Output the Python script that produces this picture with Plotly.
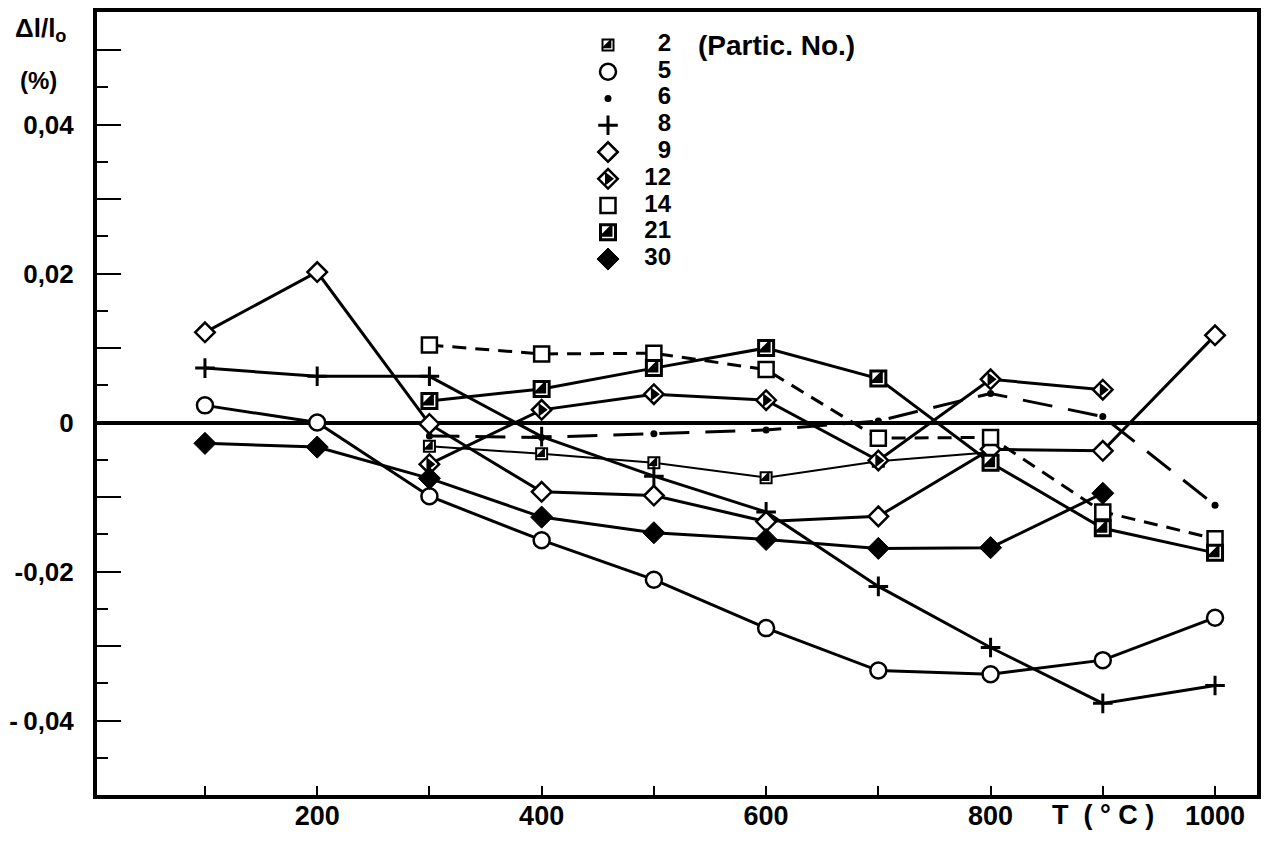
import plotly.graph_objects as go

# ---------------- data ----------------
temps = [100, 200, 300, 400, 500, 600, 700, 800, 900, 1000]
particles = ["2", "5", "6", "8", "9", "12", "14", "21", "30"]

t_2 = [300, 400, 500, 600, 700, 800]
v_2 = [-0.0032, -0.0042, -0.0054, -0.0074, -0.0052, -0.0040]

t_5 = temps
v_5 = [0.0023, 0.0000, -0.0099, -0.0158, -0.0211, -0.0276, -0.0333, -0.0338, -0.0319, -0.0262]

t_6 = [300, 400, 500, 600, 700, 800, 900, 1000]
v_6 = [-0.0018, -0.0020, -0.0015, -0.0010, 0.0002, 0.0039, 0.0008, -0.0111]

t_8 = temps
v_8 = [0.0073, 0.0062, 0.0062, -0.0019, -0.0072, -0.0120, -0.0220, -0.0302, -0.0377, -0.0353]

t_9 = temps
v_9 = [0.0121, 0.0202, -0.0002, -0.0093, -0.0098, -0.0133, -0.0126, -0.0036, -0.0038, 0.0117]

t_12 = [300, 400, 500, 600, 700, 800, 900]
v_12 = [-0.0056, 0.0017, 0.0038, 0.0030, -0.0051, 0.0058, 0.0044]

t_14 = [300, 400, 500, 600, 700, 800, 900, 1000]
v_14 = [0.0104, 0.0092, 0.0093, 0.0071, -0.0021, -0.0020, -0.0120, -0.0156]

t_21 = [300, 400, 500, 600, 700, 800, 900, 1000]
v_21 = [0.0029, 0.0045, 0.0073, 0.0100, 0.0059, -0.0054, -0.0142, -0.0175]

t_30 = [100, 200, 300, 400, 500, 600, 700, 800, 900]
v_30 = [-0.0028, -0.0033, -0.0075, -0.0127, -0.0148, -0.0157, -0.0169, -0.0168, -0.0095]

x_labeled = [200, 400, 600, 800, 1000]
x_labels = ["200", "400", "600", "800", "1000"]
x_unlabeled = [100, 300, 500, 700, 900]
y_labeled = [-0.04, -0.02, 0.0, 0.02, 0.04]
y_labels = ["-\u20090,04", "-0,02", "0", "0,02", "0,04"]
y_unlabeled = [-0.03, -0.01, 0.01, 0.03, 0.05]
y_minor = [-0.045, -0.035, -0.025, -0.015, -0.005, 0.005, 0.015, 0.025, 0.035, 0.045]

series = {
    "2": (t_2, v_2), "5": (t_5, v_5), "6": (t_6, v_6), "8": (t_8, v_8),
    "9": (t_9, v_9), "12": (t_12, v_12), "14": (t_14, v_14),
    "21": (t_21, v_21), "30": (t_30, v_30),
}

# ---------------- styles ----------------
FONT = "Liberation Sans"
styles = {
    "2":  dict(symbol="square", size=11, fill="white", mlw=2, half="triangle-se", hsize=11, dash="solid", width=2),
    "5":  dict(symbol="circle", size=16, fill="white", mlw=2.5, half=None, dash="solid", width=3),
    "6":  dict(symbol="circle", size=7, fill="black", mlw=0, half=None, dash="30px,16px", width=3),
    "8":  dict(symbol="cross-thin-open", size=14, fill="black", mlw=3, half=None, dash="solid", width=3),
    "9":  dict(symbol="diamond", size=15, fill="white", mlw=2.5, half=None, dash="solid", width=3),
    "12": dict(symbol="diamond", size=15, fill="white", mlw=2.5, half="triangle-right", hsize=12, dash="solid", width=3),
    "14": dict(symbol="square", size=15, fill="white", mlw=2.5, half=None, dash="14px,9px", width=3),
    "21": dict(symbol="square", size=15, fill="white", mlw=3, half="triangle-se", hsize=15, dash="solid", width=3),
    "30": dict(symbol="diamond", size=17, fill="black", mlw=1, half=None, dash="solid", width=3),
}

fig = go.Figure()

for name in particles:
    t, v = series[name]
    st = styles[name]
    fig.add_trace(go.Scatter(
        x=t, y=v, mode="lines+markers", name=name, showlegend=False,
        line=dict(color="black", width=st["width"], dash=st["dash"]),
        marker=dict(symbol=st["symbol"], size=st["size"], color=st["fill"],
                    line=dict(color="black", width=st["mlw"])),
    ))
    if st["half"]:
        fig.add_trace(go.Scatter(
            x=t, y=v, mode="markers", showlegend=False, hoverinfo="skip",
            marker=dict(symbol=st["half"], size=st["hsize"], color="black",
                        line=dict(width=0)),
        ))

# ---------------- legend (symbols + numbers on an overlay axis) ----------------
for name in particles:
    st = styles[name]
    fig.add_trace(go.Scatter(
        x=[0.2], y=[name], xaxis="x2", yaxis="y2", mode="markers", showlegend=False,
        marker=dict(symbol=st["symbol"], size=st["size"], color=st["fill"],
                    line=dict(color="black", width=st["mlw"])),
        hoverinfo="skip",
    ))
    if st["half"]:
        fig.add_trace(go.Scatter(
            x=[0.2], y=[name], xaxis="x2", yaxis="y2", mode="markers", showlegend=False,
            marker=dict(symbol=st["half"], size=st["hsize"], color="black", line=dict(width=0)),
            hoverinfo="skip",
        ))
fig.add_trace(go.Scatter(
    x=[0.9] * len(particles), y=particles, text=particles, xaxis="x2", yaxis="y2",
    mode="text", textposition="middle left", showlegend=False, hoverinfo="skip",
    textfont=dict(family=FONT, size=24, color="black", weight="bold"),
))

# overlay axis carrying the unlabeled long ticks of the y axis
fig.add_trace(go.Scatter(x=[None], y=[None], yaxis="y3", showlegend=False, hoverinfo="skip"))

# the page body adds an 8 px offset: size the figure so it fits the window
PAGE_OFF = 8
W, H = 1272 - PAGE_OFF, 843 - PAGE_OFF
L, T = 97 - PAGE_OFF, 12 - PAGE_OFF
R, B = W - (1257 - PAGE_OFF), H - (795 - PAGE_OFF)
pw, ph = W - L - R, H - T - B


def px2paper_x(px):  # px in page (screenshot) coordinates
    return (px - PAGE_OFF - L) / pw


def px2paper_y(py):
    return (H - B - (py - PAGE_OFF)) / ph


YR = [-0.05, 0.0551]
fig.update_layout(
    width=W, height=H,
    margin=dict(l=L, r=R, t=T, b=B, autoexpand=False),
    paper_bgcolor="white", plot_bgcolor="white",
    font=dict(family=FONT, size=26, color="black"),
    showlegend=False,
    xaxis=dict(
        range=[3.8, 1037.4], showgrid=False, zeroline=False, automargin=False,
        showline=True, linewidth=4, linecolor="black", mirror=True,
        ticks="inside", ticklen=9, tickwidth=2, tickcolor="black",
        tickvals=x_labeled, ticktext=x_labels, ticklabelstandoff=-6,
        tickfont=dict(family=FONT, size=27, weight="bold"),
        minor=dict(tickvals=x_unlabeled, ticks="inside", ticklen=9, tickwidth=2, tickcolor="black"),
    ),
    yaxis=dict(
        range=YR, showgrid=False, automargin=False,
        zeroline=True, zerolinewidth=4, zerolinecolor="black",
        showline=True, linewidth=4, linecolor="black", mirror=True,
        ticks="inside", ticklen=24, tickwidth=2, tickcolor="black",
        tickvals=y_labeled, ticktext=y_labels, ticklabelstandoff=14,
        tickfont=dict(family=FONT, size=26, weight="bold"),
        minor=dict(tickvals=y_minor, ticks="inside", ticklen=11, tickwidth=2, tickcolor="black"),
    ),
    yaxis3=dict(
        range=YR, overlaying="y", side="left", anchor="x", showgrid=False, zeroline=False,
        showline=False, automargin=False, showticklabels=False,
        ticks="inside", ticklen=24, tickwidth=2, tickcolor="black", tickvals=y_unlabeled,
    ),
    xaxis2=dict(domain=[px2paper_x(590), px2paper_x(680)], range=[0, 1], anchor="y2",
                visible=False, fixedrange=True),
    yaxis2=dict(domain=[px2paper_y(272.4), px2paper_y(31.6)], anchor="x2", type="category",
                categoryorder="array", categoryarray=particles, autorange=False,
                range=[len(particles) - 0.5, -0.5], visible=False, fixedrange=True),
    annotations=[
        dict(text="Δl/l<sub>o</sub>", xref="paper", yref="paper", x=px2paper_x(40), y=px2paper_y(30),
             xanchor="center", yanchor="middle", showarrow=False,
             font=dict(family=FONT, size=26, weight="bold")),
        dict(text="(%)", xref="paper", yref="paper", x=px2paper_x(38), y=px2paper_y(80),
             xanchor="center", yanchor="middle", showarrow=False,
             font=dict(family=FONT, size=24, weight="bold")),
        dict(text="(Partic. No.)", xref="paper", yref="paper", x=px2paper_x(696), y=px2paper_y(45),
             xanchor="left", yanchor="middle", showarrow=False,
             font=dict(family=FONT, size=28, weight="bold")),
        dict(text="T  ( ° C )", xref="paper", yref="paper", x=px2paper_x(1103), y=px2paper_y(815),
             xanchor="center", yanchor="middle", showarrow=False,
             font=dict(family=FONT, size=27, weight="bold")),
    ],
)

fig.write_html("out.html")
